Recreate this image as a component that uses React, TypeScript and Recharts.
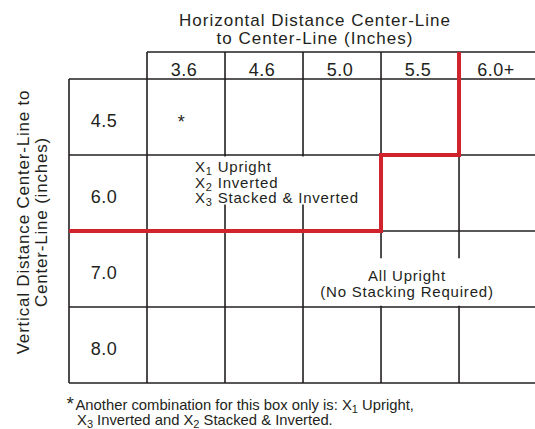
import React from "react";
import {
  ComposedChart,
  XAxis,
  YAxis,
  Scatter,
  ReferenceLine,
  ReferenceArea,
} from "recharts";

// ---------------- data ----------------
const columnLabels = ["3.6", "4.6", "5.0", "5.5", "6.0+"];
const rowLabels = ["4.5", "6.0", "7.0", "8.0"];
// number of rows (from the top) inside the stacked / inverted region, per column
const stackedRowsPerColumn = [2, 2, 2, 1, 0];
const starMark = { col: 0, row: 0, mark: "*" };
const stackedRegionLines = [
  { id: "X", sub: "1", text: " Upright" },
  { id: "X", sub: "2", text: " Inverted" },
  { id: "X", sub: "3", text: " Stacked & Inverted" },
];
const uprightRegionLines = ["All Upright", "(No Stacking Required)"];
const titleLines = ["Horizontal Distance Center-Line", "to Center-Line (Inches)"];
const yTitleLines = ["Vertical Distance Center-Line to", "Center-Line (inches)"];
const footnoteLine1 = [
  { t: "Another combination for this box only is: X" },
  { sub: "1" },
  { t: " Upright," },
];
const footnoteLine2 = [
  { t: "X" },
  { sub: "3" },
  { t: " Inverted and X" },
  { sub: "2" },
  { t: " Stacked & Inverted." },
];

// ---------------- layout ----------------
const W = 535;
const H = 429;
const FONT = "'Liberation Sans', Arial, Helvetica, sans-serif";
const INK = "#231f20";
const RED = "#d0232b";
const GRID_W = 1.6;
const HEADER_TOP = -0.355; // header row height relative to a body row
const X_VIEW_MAX = 4.974; // right side is cut off by the picture edge
const nCols = columnLabels.length;
const nRows = rowLabels.length;

const headerData = columnLabels.map((label, i) => ({ x: i + 0.5, y: HEADER_TOP / 2, label }));
const rowData = rowLabels.map((label, j) => ({ x: -0.5, y: j + 0.5, label }));
const starData = [{ x: starMark.col + 0.5, y: starMark.row + 0.5, label: starMark.mark }];
const stackedTextAnchor = [{ x: 0.615, y: 1.224 }];
const uprightTextAnchor = [{ x: 3.333, y: 2.658 }];

// red boundary staircase built from stackedRowsPerColumn
const boundary: { x: number; y: number }[] = (() => {
  let last = -1;
  stackedRowsPerColumn.forEach((c, i) => {
    if (c > 0) last = i;
  });
  const pts = [{ x: last + 1, y: HEADER_TOP }];
  for (let i = last; i >= 0; i--) {
    pts.push({ x: i + 1, y: stackedRowsPerColumn[i] });
    pts.push({ x: i, y: stackedRowsPerColumn[i] });
  }
  pts.push({ x: -1, y: pts[pts.length - 1].y });
  return pts;
})();

// grid segments
const hSegments: [number, number, number][] = [];
hSegments.push([HEADER_TOP, 0, nCols]);
for (let j = 0; j <= nRows; j++) hSegments.push([j, -1, nCols]);
const vSegments: [number, number, number][] = [];
vSegments.push([-1, 0, nRows]);
for (let i = 0; i <= nCols; i++) vSegments.push([i, HEADER_TOP, nRows]);

const Empty = () => <g />;

const cellLabel = (fontSize: number, dx: number, dy: number) => (props: any) => {
  const { cx, cy, payload } = props;
  return (
    <text
      x={cx + dx}
      y={cy + dy}
      textAnchor="middle"
      fontFamily={FONT}
      fontSize={fontSize}
      letterSpacing={0.5}
      fill={INK}
    >
      {payload.label}
    </text>
  );
};

const StackedText = (props: any) => {
  const { cx, cy } = props;
  return (
    <text x={cx} y={cy} fontFamily={FONT} fontSize={15} letterSpacing={0.8} fill={INK}>
      {stackedRegionLines.map((l, k) => (
        <tspan key={k} x={cx} y={cy + k * 15.5}>
          {l.id}
          <tspan fontSize={11} dy={3}>{l.sub}</tspan>
          <tspan dy={-3}>{l.text}</tspan>
        </tspan>
      ))}
    </text>
  );
};

const UprightText = (props: any) => {
  const { cx, cy } = props;
  return (
    <text x={cx} y={cy} fontFamily={FONT} fontSize={15} letterSpacing={0.8} fill={INK} textAnchor="middle">
      {uprightRegionLines.map((l, k) => (
        <tspan key={k} x={cx} y={cy + k * 15.5}>
          {l}
        </tspan>
      ))}
    </text>
  );
};

const renderRich = (parts: any[]) =>
  parts.map((p, k) =>
    p.sub ? (
      <tspan key={k} fontSize={11} dy={3}>
        {p.sub}
      </tspan>
    ) : (
      <tspan key={k} dy={k > 0 && parts[k - 1].sub ? -3 : 0}>
        {p.t}
      </tspan>
    )
  );

export default function App() {
  return (
    <div style={{ position: "absolute", left: 0, top: 0, width: W, height: H, background: "#fff" }}>
      <ComposedChart
        width={W}
        height={H}
        margin={{ top: 52, right: 0, bottom: 46, left: 69 }}
        data={[]}
      >
        <XAxis type="number" dataKey="x" domain={[-1, X_VIEW_MAX]} hide allowDataOverflow />
        <YAxis type="number" dataKey="y" domain={[HEADER_TOP, nRows]} reversed hide allowDataOverflow />
        {hSegments.map(([y, x1, x2], k) => (
          <ReferenceLine
            key={"h" + k}
            segment={[{ x: x1, y }, { x: x2, y }]}
            stroke={INK}
            strokeWidth={GRID_W}
            ifOverflow="visible"
            zIndex={100}
          />
        ))}
        {vSegments.map(([x, y1, y2], k) => (
          <ReferenceLine
            key={"v" + k}
            segment={[{ x, y: y1 }, { x, y: y2 }]}
            stroke={INK}
            strokeWidth={GRID_W}
            ifOverflow="visible"
            zIndex={100}
          />
        ))}
        <ReferenceArea x1={0.55} x2={2.8} y1={1.02} y2={1.65} fill="#fff" fillOpacity={1} stroke="none" ifOverflow="visible" zIndex={200} />
        <ReferenceArea x1={2.2} x2={4.5} y1={2.36} y2={2.985} fill="#fff" fillOpacity={1} stroke="none" ifOverflow="visible" zIndex={200} />
        <Scatter
          data={boundary}
          line={{ stroke: RED, strokeWidth: 4, strokeLinejoin: "miter" }}
          lineType="joint"
          shape={Empty}
          isAnimationActive={false}
          zIndex={300}
        />
        <Scatter data={headerData} shape={cellLabel(18, -2, 10.5)} isAnimationActive={false} zIndex={400} />
        <Scatter data={rowData} shape={cellLabel(18, -4, 10.5)} isAnimationActive={false} zIndex={400} />
        <Scatter data={starData} shape={cellLabel(18, -4.5, 11)} isAnimationActive={false} zIndex={400} />
        <Scatter data={stackedTextAnchor} shape={StackedText} isAnimationActive={false} zIndex={400} />
        <Scatter data={uprightTextAnchor} shape={UprightText} isAnimationActive={false} zIndex={400} />
      </ComposedChart>
      <svg
        width={W}
        height={H}
        style={{ position: "absolute", left: 0, top: 0, pointerEvents: "none" }}
      >
        <g fontFamily={FONT} fill={INK}>
          {titleLines.map((t, k) => (
            <text key={k} x={315} y={26 + k * 17.5} textAnchor="middle" fontSize={17} letterSpacing={1}>
              {t}
            </text>
          ))}
          {yTitleLines.map((t, k) => (
            <text
              key={k}
              transform={`translate(${29 + k * 17.5}, 222) rotate(-90)`}
              textAnchor="middle"
              fontSize={17}
              letterSpacing={0.8}
            >
              {t}
            </text>
          ))}
          <text x={66.5} y={409.5} fontSize={19}>*</text>
          <text x={75.5} y={409.5} fontSize={14.8}>
            {renderRich(footnoteLine1)}
          </text>
          <text x={77} y={424.5} fontSize={14.8}>
            {renderRich(footnoteLine2)}
          </text>
        </g>
      </svg>
    </div>
  );
}
